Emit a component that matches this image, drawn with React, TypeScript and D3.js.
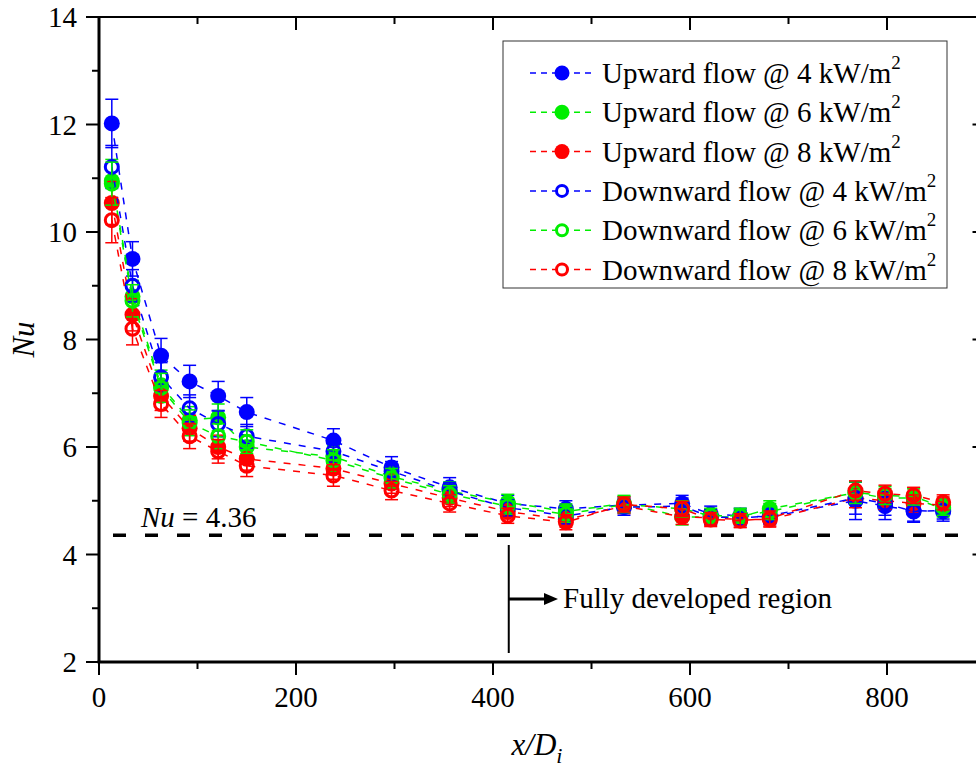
import React from "react";
import * as d3 from "d3";

const XD = [13, 34, 63, 92, 121, 150, 238, 297, 356, 415, 474, 533, 592, 621, 651, 681, 768, 798, 827, 857];

const UP4 = [12.02, 9.5, 7.7, 7.22, 6.95, 6.65, 6.12, 5.62, 5.25, 4.95, 4.85, 4.92, 4.95, 4.75, 4.72, 4.7, 5.0, 4.9, 4.82, 4.8];
const UP6 = [10.95, 8.8, 7.15, 6.5, 6.55, 6.0, 5.82, 5.45, 5.18, 4.97, 4.8, 4.95, 4.7, 4.7, 4.7, 4.85, 5.15, 5.05, 5.05, 4.85];
const UP8 = [10.54, 8.46, 6.95, 6.35, 6.0, 5.78, 5.6, 5.32, 5.05, 4.8, 4.65, 4.9, 4.7, 4.68, 4.65, 4.65, 5.05, 5.0, 4.95, 4.92];
const DN4 = [11.21, 9.0, 7.3, 6.72, 6.43, 6.2, 5.92, 5.55, 5.18, 4.87, 4.72, 4.88, 4.9, 4.7, 4.68, 4.72, 5.05, 4.95, 4.8, 4.82];
const DN6 = [10.9, 8.72, 7.1, 6.45, 6.2, 6.1, 5.75, 5.42, 5.12, 4.9, 4.75, 4.93, 4.85, 4.72, 4.72, 4.8, 5.15, 5.1, 5.08, 4.88];
const DN8 = [10.22, 8.2, 6.8, 6.2, 5.92, 5.65, 5.47, 5.19, 4.95, 4.72, 4.6, 4.93, 4.85, 4.65, 4.63, 4.67, 5.19, 5.13, 5.1, 4.97];

const ERR_UP4 = [0.45, 0.32, 0.32, 0.3, 0.27, 0.27, 0.22, 0.2, 0.18, 0.15, 0.15, 0.15, 0.15, 0.15, 0.14, 0.14, 0.35, 0.25, 0.2, 0.18];
const ERR_UP6 = [0.4, 0.3, 0.28, 0.25, 0.25, 0.22, 0.2, 0.18, 0.17, 0.15, 0.14, 0.15, 0.15, 0.14, 0.14, 0.15, 0.2, 0.18, 0.17, 0.15];
const ERR_UP8 = [0.4, 0.3, 0.27, 0.24, 0.22, 0.21, 0.2, 0.18, 0.16, 0.14, 0.14, 0.14, 0.14, 0.14, 0.14, 0.14, 0.18, 0.16, 0.16, 0.15];
const ERR_DN4 = [0.4, 0.3, 0.27, 0.25, 0.24, 0.22, 0.2, 0.18, 0.16, 0.15, 0.15, 0.15, 0.15, 0.14, 0.14, 0.14, 0.3, 0.22, 0.2, 0.16];
const ERR_DN6 = [0.4, 0.3, 0.27, 0.24, 0.23, 0.22, 0.2, 0.18, 0.16, 0.15, 0.15, 0.15, 0.15, 0.14, 0.14, 0.15, 0.2, 0.17, 0.16, 0.15];
const ERR_DN8 = [0.42, 0.3, 0.25, 0.23, 0.22, 0.2, 0.2, 0.17, 0.16, 0.14, 0.14, 0.14, 0.14, 0.13, 0.13, 0.14, 0.18, 0.16, 0.15, 0.14];

const SERIES_LABELS = ["Upward flow @ 4 kW/m", "Upward flow @ 6 kW/m", "Upward flow @ 8 kW/m", "Downward flow @ 4 kW/m", "Downward flow @ 6 kW/m", "Downward flow @ 8 kW/m"];
const SERIES_VALUES = [UP4, UP6, UP8, DN4, DN6, DN8];
const SERIES_ERRORS = [ERR_UP4, ERR_UP6, ERR_UP8, ERR_DN4, ERR_DN6, ERR_DN8];
const SERIES_COLORS = ["#0000ff", "#00ee00", "#ff0000", "#0000ff", "#00ee00", "#ff0000"];
const SERIES_FILLED = [true, true, true, false, false, false];

const X_TICKS = [0, 200, 400, 600, 800];
const X_MINOR = [100, 300, 500, 700, 900];
const Y_TICKS = [2, 4, 6, 8, 10, 12, 14];
const Y_MINOR = [3, 5, 7, 9, 11, 13];
const NU_FD = 4.36;
const FD_START = 416;

const FONT = '"Liberation Serif", Tinos, "Times New Roman", "DejaVu Serif", serif';
const TS: React.CSSProperties = { fontFamily: FONT };

export default function App() {
  const W = 976, H = 769;
  const left = 99, top = 17, bottom = 662;
  const x = d3.scaleLinear().domain([0, 900]).range([left, left + 886.5]);
  const y = d3.scaleLinear().domain([2, 14]).range([bottom, top]);
  const right = x(900);
  const line = d3.line<number>().x((_, i) => x(XD[i])).y((v) => y(v));

  const legendX = 503, legendY = 41;
  const rowH = 39.3;
  const fdX = x(FD_START);

  return (
    <svg width={W} height={H} style={{ position: "absolute", left: 0, top: 0, background: "#fff", fontFamily: FONT }}>
      <rect x={0} y={0} width={W} height={H} fill="#fff" />
      {/* Nu = 4.36 line */}
      <line x1={x(0)} x2={right} y1={y(NU_FD)} y2={y(NU_FD)} stroke="#000" strokeWidth={3.5} strokeDasharray="13 19" strokeDashoffset={18} />
      <text x={141} y={527} fontSize={29} style={TS}>
        <tspan fontStyle="italic">Nu</tspan>
        <tspan> = 4.36</tspan>
      </text>

      {/* series */}
      {SERIES_VALUES.map((vals, si) => {
        const c = SERIES_COLORS[si];
        return (
          <g key={si}>
            <path d={line(vals) || ""} fill="none" stroke={c} strokeWidth={1.5} strokeDasharray="7 8" />
            {vals.map((v, i) => {
              const e = SERIES_ERRORS[si][i];
              const cx = x(XD[i]);
              return (
                <g key={i} stroke={c} strokeWidth={1.5}>
                  <line x1={cx} x2={cx} y1={y(v + e)} y2={y(v - e)} />
                  <line x1={cx - 6.5} x2={cx + 6.5} y1={y(v + e)} y2={y(v + e)} />
                  <line x1={cx - 6.5} x2={cx + 6.5} y1={y(v - e)} y2={y(v - e)} />
                </g>
              );
            })}
            {vals.map((v, i) =>
              SERIES_FILLED[si] ? (
                <circle key={"m" + i} cx={x(XD[i])} cy={y(v)} r={8} fill={c} />
              ) : (
                <circle key={"m" + i} cx={x(XD[i])} cy={y(v)} r={6.5} fill="none" stroke={c} strokeWidth={3} />
              )
            )}
          </g>
        );
      })}

      {/* fully developed annotation */}
      <line x1={fdX} x2={fdX} y1={545} y2={653} stroke="#000" strokeWidth={2} />
      <line x1={fdX} x2={546} y1={599} y2={599} stroke="#000" strokeWidth={3} />
      <path d="M544,593 L558,599 L544,605 Z" fill="#000" />
      <text x={563} y={608} fontSize={29} style={TS}>Fully developed region</text>

      {/* frame */}
      <line x1={left} x2={right} y1={top} y2={top} stroke="#000" strokeWidth={2} />
      <line x1={right} x2={right} y1={top} y2={bottom} stroke="#000" strokeWidth={2} />
      <line x1={left} x2={left} y1={top} y2={bottom + 1} stroke="#000" strokeWidth={3} />
      <line x1={left - 1.5} x2={right} y1={bottom} y2={bottom} stroke="#000" strokeWidth={3} />

      {/* x ticks */}
      {X_TICKS.map((t) => (
        <g key={"xt" + t}>
          <line x1={x(t)} x2={x(t)} y1={bottom} y2={bottom + 13} stroke="#000" strokeWidth={2} />
          <line x1={x(t)} x2={x(t)} y1={top} y2={top + 13} stroke="#000" strokeWidth={2} />
          <text x={x(t)} y={707} fontSize={29} textAnchor="middle" style={TS}>{t}</text>
        </g>
      ))}
      {X_MINOR.map((t) => (
        <g key={"xm" + t}>
          <line x1={x(t)} x2={x(t)} y1={bottom} y2={bottom + 7} stroke="#000" strokeWidth={2} />
          <line x1={x(t)} x2={x(t)} y1={top} y2={top + 7} stroke="#000" strokeWidth={2} />
        </g>
      ))}
      {/* y ticks */}
      {Y_TICKS.map((t) => (
        <g key={"yt" + t}>
          <line x1={left - 13} x2={left} y1={y(t)} y2={y(t)} stroke="#000" strokeWidth={2} />
          <line x1={right - 13} x2={right} y1={y(t)} y2={y(t)} stroke="#000" strokeWidth={2} />
          <text x={77} y={y(t) + 10} fontSize={29} textAnchor="end" style={TS}>{t}</text>
        </g>
      ))}
      {Y_MINOR.map((t) => (
        <line key={"ym" + t} x1={left - 7} x2={left} y1={y(t)} y2={y(t)} stroke="#000" strokeWidth={2} />
      ))}

      {/* axis titles */}
      <text transform={`translate(34,${y(8)}) rotate(-90)`} fontSize={31} fontStyle="italic" textAnchor="middle" style={TS}>Nu</text>
      <text x={537} y={755} fontSize={31} fontStyle="italic" textAnchor="middle" style={TS}>
        x/D<tspan fontSize={22} dy={8}>i</tspan>
      </text>

      {/* legend */}
      <rect x={legendX} y={legendY} width={444} height={247} fill="#fff" stroke="#333" strokeWidth={1} />
      {SERIES_LABELS.map((lab, i) => {
        const cy = 73 + i * rowH;
        const c = SERIES_COLORS[i];
        return (
          <g key={"lg" + i}>
            <line x1={530} x2={594} y1={cy} y2={cy} stroke={c} strokeWidth={1.5} strokeDasharray="6 5" />
            {SERIES_FILLED[i] ? (
              <circle cx={562} cy={cy} r={7.5} fill={c} />
            ) : (
              <circle cx={562} cy={cy} r={5.5} fill="#fff" stroke={c} strokeWidth={3} />
            )}
            <text x={602} y={cy + 10} fontSize={29} style={TS}>
              {lab}
              <tspan fontSize={19} dy={-14}>2</tspan>
            </text>
          </g>
        );
      })}
    </svg>
  );
}
